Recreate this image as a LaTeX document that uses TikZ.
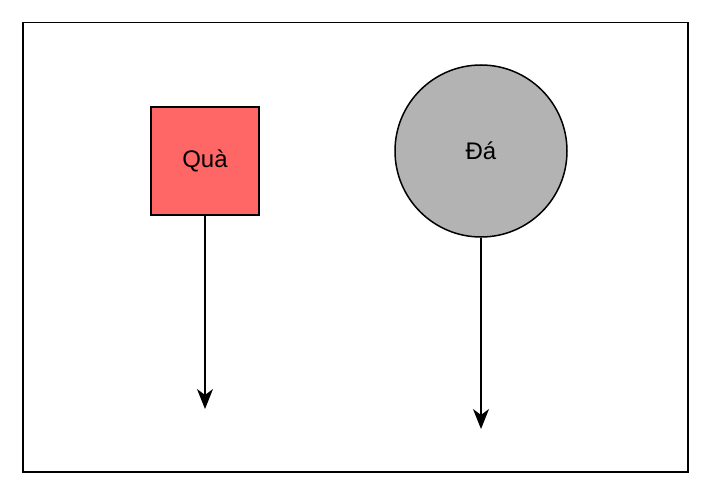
\documentclass[tikz,border=0pt]{standalone}
\usepackage{fontspec}
\setmainfont{Liberation Sans}
\usetikzlibrary{arrows.meta}
\definecolor{redfill}{HTML}{FF6666}
\definecolor{grayfill}{HTML}{B3B3B3}
\begin{document}
\begin{tikzpicture}[x=1pt,y=-1pt,
  shapeline/.style={draw=black,line width=1.5pt},
  lbl/.style={font=\fontsize{24}{28}\selectfont,text=black},
  conn/.style={draw=black,line width=1.5pt,-{Stealth[length=20pt,width=16pt,inset=6pt]}}]
\useasboundingbox (0,0) rectangle (710,495);
\node[shapeline,rectangle,minimum width=665pt,minimum height=449pt,inner sep=0pt,anchor=north west] (frame) at (22,22) {};
\node[shapeline,rectangle,fill=redfill,minimum size=108pt,inner sep=0pt,lbl] (qua) at (205,161) {Quà};
\node[shapeline,circle,fill=grayfill,minimum size=172pt,inner sep=0pt,lbl] (da) at (481,151) {Đá};
\coordinate (e1) at (205,409);
\coordinate (e2) at (481,429);
\draw[conn] (qua.south) -- (e1);
\draw[conn] (da.south) -- (e2);
\end{tikzpicture}
\end{document}
